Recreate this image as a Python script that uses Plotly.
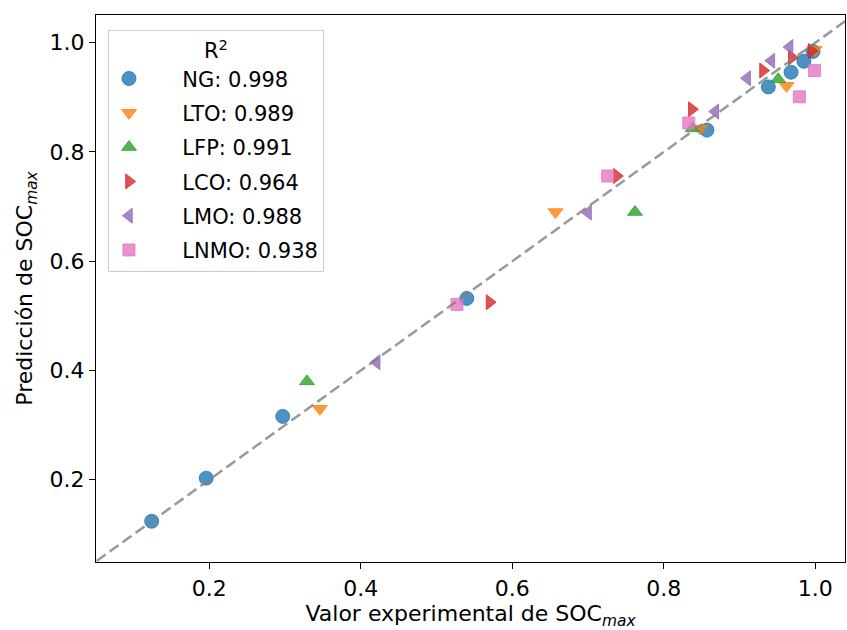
import plotly.graph_objects as go

# ---- data ----
ng_x = [0.124, 0.196, 0.297, 0.540, 0.857, 0.938, 0.968, 0.985, 0.997]
ng_y = [0.124, 0.203, 0.316, 0.532, 0.840, 0.919, 0.946, 0.966, 0.984]

lto_x = [0.346, 0.657, 0.848, 0.962, 0.999]
lto_y = [0.330, 0.690, 0.843, 0.921, 0.987]

lfp_x = [0.329, 0.762, 0.838, 0.951]
lfp_y = [0.380, 0.690, 0.843, 0.933]

lco_x = [0.570, 0.738, 0.837, 0.931, 0.969, 0.995]
lco_y = [0.525, 0.756, 0.878, 0.949, 0.973, 0.985]

lmo_x = [0.421, 0.700, 0.868, 0.910, 0.942, 0.966]
lmo_y = [0.415, 0.689, 0.874, 0.935, 0.967, 0.992]

lnmo_x = [0.527, 0.726, 0.833, 0.979, 0.999]
lnmo_y = [0.521, 0.756, 0.853, 0.901, 0.949]

labels = ["NG: 0.998", "LTO: 0.989", "LFP: 0.991", "LCO: 0.964", "LMO: 0.988", "LNMO: 0.938"]
series_x = [ng_x, lto_x, lfp_x, lco_x, lmo_x, lnmo_x]
series_y = [ng_y, lto_y, lfp_y, lco_y, lmo_y, lnmo_y]
symbols = ["circle", "triangle-down", "triangle-up", "triangle-right", "triangle-left", "square"]
sizes = [14, 13, 13, 13, 13, 12]
colors = [(31, 119, 180), (255, 127, 14), (44, 160, 44), (214, 39, 40), (148, 103, 189), (227, 119, 194)]

diag = [0.0, 1.1]

FONT = "DejaVu Sans"

fig = go.Figure()
for i in range(len(labels)):
    r, g, b = colors[i]
    fig.add_trace(go.Scatter(
        x=series_x[i], y=series_y[i], mode="markers",
        name="\u00a0" * 5 + labels[i],
        legendgroup=f"g{i}",
        marker=dict(symbol=symbols[i], size=sizes[i],
                    color=f"rgba({r},{g},{b},0.8)",
                    line=dict(color=f"rgba({r},{g},{b},0.8)", width=1)),
    ))

fig.add_trace(go.Scatter(
    x=diag, y=diag, mode="lines", showlegend=False,
    line=dict(color="rgba(128,128,128,0.8)", width=2.5, dash="11px,5px"),
    hoverinfo="skip",
))

axis_common = dict(
    showgrid=False, zeroline=False, showline=True, linecolor="black", linewidth=1.2,
    mirror=True, ticks="outside", ticklen=6, tickwidth=1.2, tickcolor="black",
    tickfont=dict(family=FONT, size=22, color="black"),
)

fig.update_layout(
    width=847, height=630,
    margin=dict(l=96, r=2, t=15, b=68),
    paper_bgcolor="white", plot_bgcolor="white",
    font=dict(family=FONT, size=22, color="black"),
    xaxis=dict(range=[0.0505, 1.0392], tickvals=[0.2, 0.4, 0.6, 0.8, 1.0],
               ticktext=["0.2", "0.4", "0.6", "0.8", "1.0"],
               title=dict(text="Valor experimental de SOC<sub><i>max</i></sub>",
                          font=dict(family=FONT, size=22), standoff=6),
               **axis_common),
    yaxis=dict(range=[0.0495, 1.0507], tickvals=[0.2, 0.4, 0.6, 0.8, 1.0],
               ticktext=["0.2", "0.4", "0.6", "0.8", "1.0"],
               title=dict(text="Predicción de SOC<sub><i>max</i></sub>",
                          font=dict(family=FONT, size=22), standoff=10),
               **axis_common),
    legend=dict(
        x=0.016, y=0.9725, xanchor="left", yanchor="top",
        bgcolor="rgba(255,255,255,0.8)", bordercolor="#cccccc", borderwidth=1,
        font=dict(family=FONT, size=21, color="black"),
        title=dict(text="R<sup>2</sup>", side="top center", font=dict(family=FONT, size=21)),
        tracegroupgap=4,
        itemsizing="trace",
        entrywidth=224, entrywidthmode="pixels",
    ),
    showlegend=True,
)

fig.write_html("out.html")
